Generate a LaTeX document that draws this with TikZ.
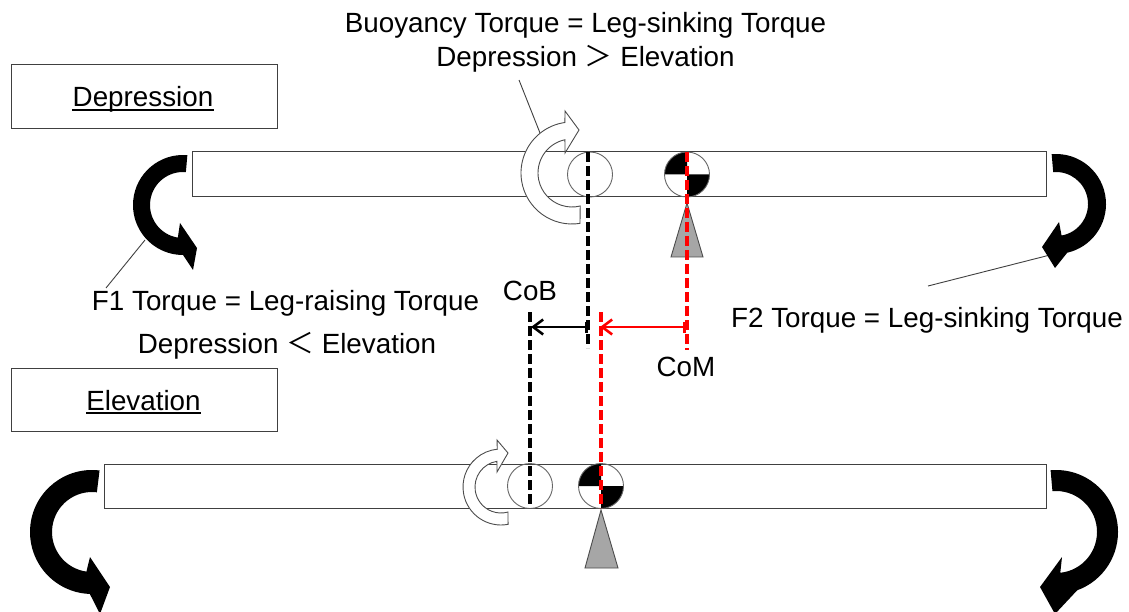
\documentclass[tikz,border=0pt]{standalone}
\usepackage{fontspec}
\setmainfont{Liberation Sans}
\newfontfamily\cjkfont{Noto Sans CJK JP}
\usetikzlibrary{arrows.meta}
\begin{document}
\begin{tikzpicture}[x=1pt,y=1pt,
  txt/.style={font=\fontsize{27.8}{33}\selectfont, inner sep=0pt, anchor=base},
  body/.style={draw=black!75, line width=1pt, fill=white},
  lbl/.style={draw=black!75, line width=1pt},
  hollow/.style={fill=white, draw=black!70, line width=0.9pt},
  cobdash/.style={black, line width=3.4pt, dash pattern=on 10pt off 4pt},
  comdash/.style={red, line width=3.4pt, dash pattern=on 10pt off 4pt},
  ptr/.style={draw=black!75, line width=0.9pt},
  ring/.style={draw=black!60, line width=0.9pt},
  fulcrum/.style={fill=black!35, draw=black!70, line width=0.9pt},
  shiftarrow/.style={line width=2.6pt, {Bar[width=11pt]}-{Straight Barb[length=10pt,width=15pt]}}
]
\useasboundingbox (0,0) rectangle (1129,-612);
\fill[white] (0,0) rectangle (1129,-612);

% label boxes
\draw[lbl] (11,-65) rectangle (277,-129);
\node[txt] (dep) at (143,-107) {Depression};
\draw[line width=1.3pt] ([yshift=-3pt]dep.base west) -- ([yshift=-3pt]dep.base east);
\draw[lbl] (11,-368) rectangle (277,-431);
\node[txt] (elev) at (143.5,-410) {Elevation};
\draw[line width=1.3pt] ([yshift=-3pt]elev.base west) -- ([yshift=-3pt]elev.base east);

% bodies
\draw[body] (192,-152) rectangle (1046,-197);
\draw[body] (104,-464) rectangle (1046,-508);

% texts
\node[txt] (buoy1) at (585.5,-33) {Buoyancy Torque = Leg-sinking Torque};
\node[txt] (buoy2) at (585.5,-67) {Depression {\cjkfont ＞} Elevation};
\node[txt] (f1a) at (285.5,-310) {F1 Torque = Leg-raising Torque};
\node[txt] (f1b) at (287,-353) {Depression {\cjkfont ＜} Elevation};
\node[txt] (f2) at (927,-327) {F2 Torque = Leg-sinking Torque};
\node[txt] (cob) at (530,-300) {CoB};
\node[txt] (com) at (686,-376) {CoM};

% pointer lines
\coordinate (pbA) at (519,-80);
\coordinate (pbB) at (540,-133);
\coordinate (pfA) at (106,-288);
\coordinate (pfB) at (145,-240);
\coordinate (pgA) at (928,-286);
\coordinate (pgB) at (1050,-255);
\draw[ptr] (pbA) -- (pbB);
\draw[ptr] (pfA) -- (pfB);
\draw[ptr] (pgA) -- (pgB);

% black torque arrows
\begin{scope}[shift={(183,-205)}]
\fill (85:50) arc[start angle=85,end angle=270,radius=50] -- (10,-65) -- (14,-43) -- (-3,-18) -- (261:33) arc[start angle=261,end angle=85,radius=33] -- cycle;
\end{scope}
\begin{scope}[shift={(1056,-204)}]
\fill (95:50) arc[start angle=95,end angle=-77,radius=50] -- (-1,-64) -- (-14,-43) -- (3,-18) -- (-80:32) arc[start angle=-80,end angle=95,radius=32] -- cycle;
\end{scope}
\begin{scope}[shift={(92,-532)}]
\fill (83:62) arc[start angle=83,end angle=268,radius=62] -- (8,-82) -- (18,-55) -- (-2,-25) -- (262:40) arc[start angle=262,end angle=83,radius=40] -- cycle;
\end{scope}
\begin{scope}[shift={(1056,-532)}]
\fill (95:62) arc[start angle=95,end angle=-70,radius=62] -- (-1,-82) -- (-16,-55) -- (6,-25) -- (-84:41) arc[start angle=-84,end angle=95,radius=41] -- cycle;
\end{scope}

% hollow buoyancy arrows
\begin{scope}[shift={(572,-173)}]
\filldraw[hollow] (-81:51) arc[start angle=-81,end angle=-262,radius=51] -- (-7,62) -- (7,43) -- (-7,20) -- (102:34) arc[start angle=102,end angle=284,radius=34] -- cycle;
\end{scope}
\begin{scope}[shift={(501,-487)}]
\filldraw[hollow] (-79.3:38) arc[start angle=-79.3,end angle=-264.4,radius=38] -- (-4,47) -- (7,34) -- (-4,15) -- (99:26) arc[start angle=99,end angle=285.6,radius=26] -- cycle;
\end{scope}

% CoB circles
\draw[ring] (590,-174.5) circle[radius=22.5];
\draw[ring] (530,-486) circle[radius=22.5];

% CoM symbols
\foreach \cx/\cy in {687/-174.5, 601/-486} {
  \fill (\cx,\cy) -- ++(90:22.5) arc[start angle=90,end angle=180,radius=22.5] -- cycle;
  \fill (\cx,\cy) -- ++(270:22.5) arc[start angle=270,end angle=360,radius=22.5] -- cycle;
  \draw[ring] (\cx,\cy) circle[radius=22.5];
}

% fulcrums
\filldraw[fulcrum] (687,-203) -- (671,-257) -- (703,-257) -- cycle;
\filldraw[fulcrum] (601,-510) -- (585,-568) -- (618,-568) -- cycle;

% dashed lines
\coordinate (cobTa) at (588,-152);
\coordinate (cobTb) at (588,-348);
\coordinate (comTa) at (687,-152);
\coordinate (comTb) at (687,-350);
\coordinate (cobBa) at (530,-312);
\coordinate (cobBb) at (530,-508);
\coordinate (comBa) at (601,-312);
\coordinate (comBb) at (601,-508);
\draw[cobdash] (cobTa) -- (cobTb);
\draw[comdash] (comTa) -- (comTb);
\draw[cobdash] (cobBa) -- (cobBb);
\draw[comdash] (comBa) -- (comBb);

% shift arrows
\coordinate (sbA) at (588,-327);
\coordinate (sbB) at (531,-327);
\coordinate (srA) at (686,-327);
\coordinate (srB) at (600,-327);
\draw[shiftarrow, black] (sbA) -- (sbB);
\draw[shiftarrow, red] (srA) -- (srB);
\end{tikzpicture}
\end{document}
